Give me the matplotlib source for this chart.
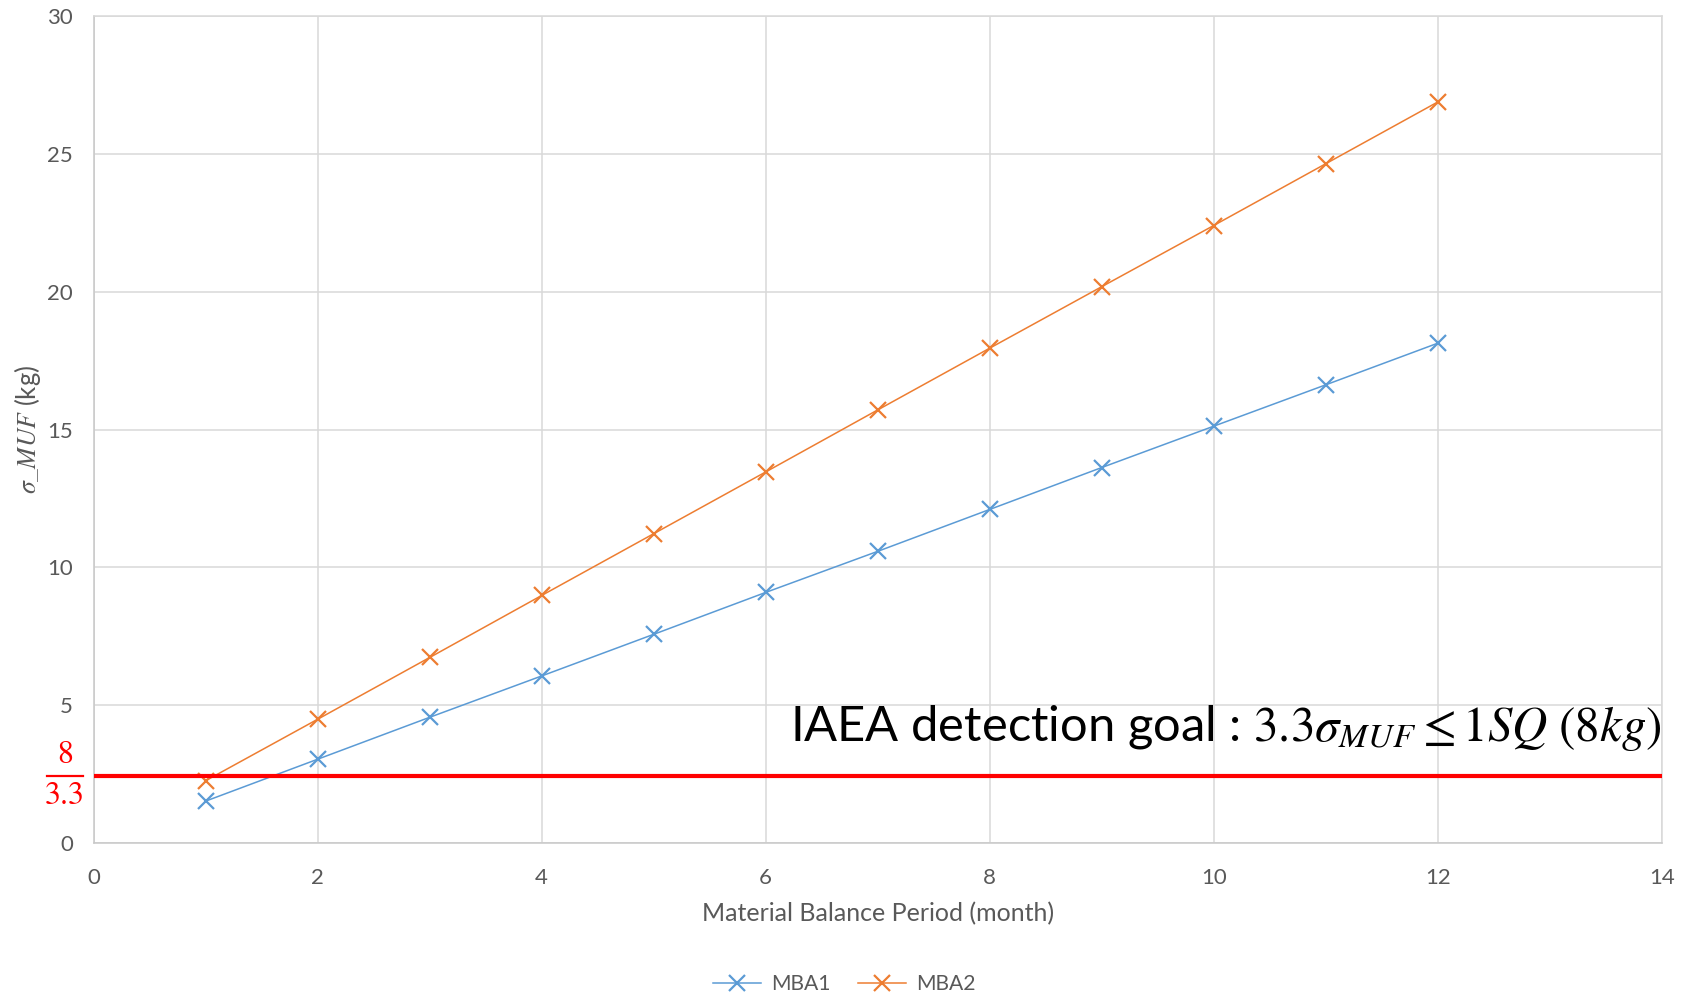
import matplotlib
matplotlib.use("Agg")
import matplotlib.pyplot as plt
import matplotlib.transforms as mtransforms
from matplotlib.lines import Line2D
from matplotlib.ticker import FixedLocator

# Standard deviation of MUF per material balance period
months = [1, 2, 3, 4, 5, 6, 7, 8, 9, 10, 11, 12]
mba1 = [1.52, 3.04, 4.56, 6.06, 7.57, 9.09, 10.58, 12.10, 13.62, 15.12, 16.62, 18.13]
mba2 = [2.26, 4.49, 6.73, 8.98, 11.22, 13.46, 15.71, 17.95, 20.18, 22.40, 24.64, 26.88]
series_names = ["MBA1", "MBA2"]
series_colors = ["#5B9BD5", "#ED7D31"]

x_ticks = [0, 2, 4, 6, 8, 10, 12, 14]
y_ticks = [0, 5, 10, 15, 20, 25, 30]

# IAEA detection goal: 3.3 sigma_MUF <= 1 SQ (8 kg)
sq_kg = 8
detection_factor = 3.3
threshold = sq_kg / detection_factor

plt.rcParams["font.family"] = ["Lato", "DejaVu Sans"]
plt.rcParams["mathtext.fontset"] = "stix"

W, H = 1688, 998
fig = plt.figure(figsize=(W / 100, H / 100), dpi=100)
ax = fig.add_axes([93.7 / W, 1 - 843 / H, 1568 / W, 827 / H])

for vals, name, col in zip([mba1, mba2], series_names, series_colors):
    ax.plot(months, vals, color=col, lw=1.1, marker="x", ms=11, mew=1.6,
            label=name, zorder=2)

ax.axhline(threshold, color="#FF0000", lw=3.0, zorder=3)

ax.set_xlim(x_ticks[0], x_ticks[-1])
ax.set_ylim(y_ticks[0], y_ticks[-1])
ax.xaxis.set_major_locator(FixedLocator(x_ticks))
ax.yaxis.set_major_locator(FixedLocator(y_ticks))
ax.grid(True, color="#D9D9D9", lw=1.1, zorder=0)
ax.set_axisbelow(True)
for s in ax.spines.values():
    s.set_color("#D9D9D9")
    s.set_linewidth(1.1)
ax.spines["left"].set_color("#C8C8C8")
ax.spines["bottom"].set_color("#C8C8C8")

ax.tick_params(axis="both", length=0, labelsize=16, labelcolor="#595959")
ax.tick_params(axis="x", pad=18)
ax.tick_params(axis="y", pad=15)

ax.set_xlabel("Material Balance Period (month)", fontsize=18, color="#595959")
ax.xaxis.set_label_coords(0.5, -0.086)
ax.xaxis.label.set_va("center")
ax.set_ylabel(r"$\sigma\_MUF$ (kg)", fontsize=18.5, color="#595959")
ax.yaxis.set_label_coords(-0.0425, 0.5)
ax.yaxis.label.set_va("center")

# threshold label (8 over 3.3) at the left of the axis
trans = mtransforms.blended_transform_factory(ax.transAxes, ax.transData)
frac_x = -0.0185
ax.text(frac_x, threshold, "%g" % sq_kg, fontfamily="STIXGeneral",
        fontsize=23, color="#FF0000", ha="center", va="center", clip_on=False,
        transform=mtransforms.offset_copy(trans, fig=fig, y=15, units="points"))
ax.text(frac_x, threshold, "%g" % detection_factor, fontfamily="STIXGeneral",
        fontsize=23, color="#FF0000", ha="center", va="center", clip_on=False,
        transform=mtransforms.offset_copy(trans, fig=fig, y=-14.5, units="points"))
ax.add_line(Line2D([frac_x - 0.0115, frac_x + 0.0115], [threshold, threshold],
                   transform=trans, color="#FF0000", lw=1.6, clip_on=False))

ax.text(1.0, 3.70,
        r"IAEA detection goal : $%g\sigma_{MUF} \leq 1SQ\ (%gkg)$" % (detection_factor, sq_kg),
        transform=trans, ha="right", va="baseline", color="black",
        fontsize=35.2, zorder=4)

leg = fig.legend(loc="center", bbox_to_anchor=(0.5, 1 - 984 / H), ncol=2,
                 frameon=False, fontsize=15.2, handlelength=2.3,
                 handletextpad=0.45, columnspacing=1.3)
for t in leg.get_texts():
    t.set_color("#595959")

fig.savefig("out.png", dpi=100)
